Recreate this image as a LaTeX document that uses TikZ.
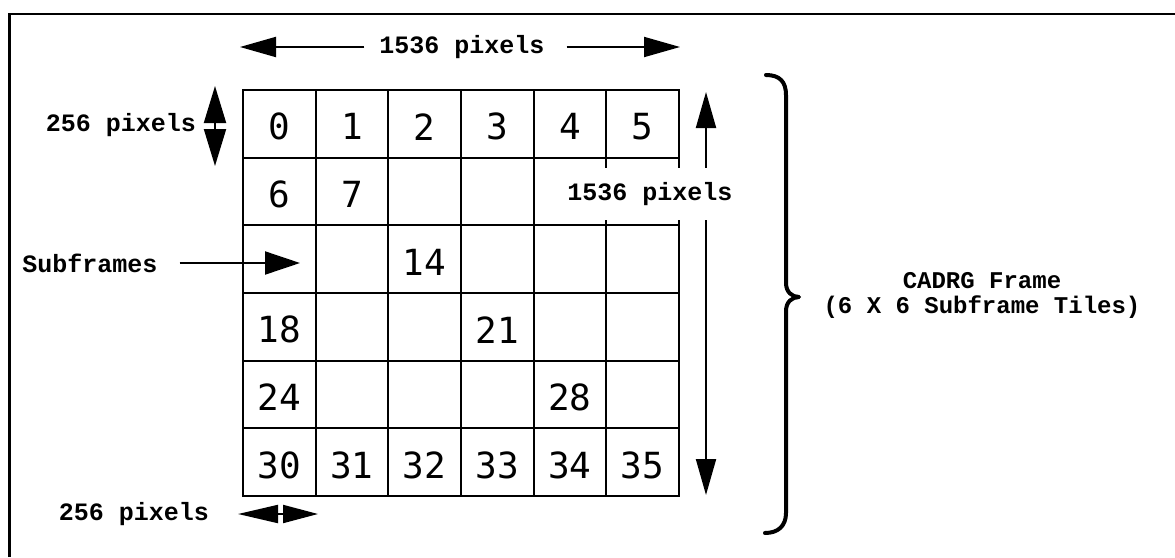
\documentclass[tikz,border=0pt]{standalone}
\usepackage{fontspec}
\newfontfamily\labfont{Liberation Mono}
\newfontfamily\numfont{DejaVu Sans Mono}
\usetikzlibrary{arrows.meta}
\begin{document}
\begin{tikzpicture}[x=1pt,y=-1pt,
  lab/.style={font=\labfont\bfseries\fontsize{25}{28}\selectfont, inner sep=0pt},
  num/.style={font=\numfont\fontsize{36}{40}\selectfont, inner sep=0pt},
  gridline/.style={line width=2pt, line cap=rect},
  shaft/.style={line width=2pt},
  bracestyle/.style={line width=4pt, line cap=round, line join=round}
]
\useasboundingbox (0,0) rectangle (1175,557);
% outer frame
\draw[line width=2.5pt] (9.5,557) -- (9.5,14) -- (1175,14);
% grid
\foreach \i in {0,...,6} {
  \draw[gridline] ({243+72.67*\i},90) -- ({243+72.67*\i},496);
  \draw[gridline] (243,{90+67.67*\i}) -- (679,{90+67.67*\i});
}
% cell numbers
\foreach \n in {0,1,2,3,4,5,6,7,14,18,21,24,28,30,31,32,33,34,35} {
  \pgfmathtruncatemacro\cc{mod(\n,6)}
  \pgfmathtruncatemacro\rr{div(\n,6)}
  \node[num] (c\n) at ({279.3+72.67*\cc},{126.8+67.67*\rr}) {\n};
}
% top 1536 pixels
\node[lab] (t1536) at (462,47) {1536 pixels};
\coordinate (tl) at (240,47);
\coordinate (tr) at (680,47);
\draw[shaft, -{Triangle[length=36pt,width=20pt]}] ([xshift=-15pt]t1536.west) -- (tl);
\draw[shaft, -{Triangle[length=36pt,width=20pt]}] ([xshift=22pt]t1536.east) -- (tr);
% right vertical 1536 pixels
\coordinate (vt) at (706,92);
\coordinate (vb) at (706,495);
\draw[shaft, {Triangle[length=36pt,width=20pt]}-{Triangle[length=36pt,width=20pt]}] (vt) -- (vb);
\node[lab, fill=white, minimum width=205pt, minimum height=52pt] (v1536) at (650,194) {1536 pixels};
% left 256 pixels
\node[lab] (l256) at (121,125) {256 pixels};
\coordinate (lm) at (215,126);
\coordinate (lt) at (215,86);
\coordinate (lb) at (215,166);
\draw[shaft, -{Triangle[length=37pt,width=22pt]}] (lm) -- (lt);
\draw[shaft, -{Triangle[length=37pt,width=22pt]}] (lm) -- (lb);
% bottom 256 pixels
\node[lab] (b256) at (134,514) {256 pixels};
\coordinate (bm) at (282,514);
\coordinate (bl) at (238,514);
\coordinate (br) at (318,514);
\draw[shaft, -{Triangle[length=40pt,width=18pt]}] (bm) -- (bl);
\draw[shaft, -{Triangle[length=35pt,width=18pt]}] (bm) -- (br);
% subframes
\node[lab] (sub) at (90,263) {Subframes};
\coordinate (sarr) at (300,263);
\draw[shaft, -{Triangle[length=35pt,width=23pt]}] ([xshift=22pt]sub.east) -- (sarr);
% brace
\draw[bracestyle] (766,75) .. controls (780,75) and (786,82) .. (786,95) -- (786,283)
  .. controls (786,292) and (792,297) .. (799,297)
  .. controls (792,297) and (786,302) .. (786,311) -- (786,513)
  .. controls (786,526) and (778,533) .. (765,533);
% CADRG label
\node[lab, font=\labfont\bfseries\fontsize{24}{25}\selectfont, align=center] (cadrg) at (982,295) {CADRG Frame\\(6 X 6 Subframe Tiles)};
\end{tikzpicture}
\end{document}
